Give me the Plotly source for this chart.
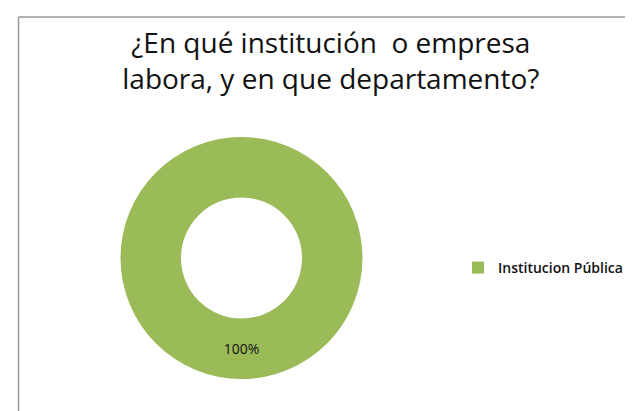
import plotly.graph_objects as go

labels = ["Institucion Pública"]
values = [100]
title_lines = ["¿En qué institución  o empresa", "labora, y en que departamento?"]

W, H = 633, 411
cx, cy, r = 233.5, 250, 121
fig = go.Figure(go.Pie(
    labels=labels, values=values, hole=0.5,
    marker=dict(colors=["#9BBB59"], line=dict(width=0)),
    textinfo="percent", textposition="inside",
    insidetextfont=dict(family="Open Sans", size=14, color="#111111"),
    sort=False, direction="clockwise", rotation=0,
    domain=dict(x=[(cx - r)/W, (cx + r)/W], y=[1 - (cy + r)/H, 1 - (cy - r)/H]),
    showlegend=True,
))
fig.update_layout(
    width=W, height=H, margin=dict(l=0, r=0, t=0, b=0),
    paper_bgcolor="white", plot_bgcolor="white",
    title=dict(text="<br>".join(title_lines), x=0.510, xanchor="center",
               y=1-45/H, yanchor="top",
               font=dict(family="Open Sans", size=28, color="#111111")),
    legend=dict(x=450/W, y=1-260/H, xanchor="left", yanchor="middle",
                font=dict(family="Open Sans", size=14, color="#111111", weight=600),
                itemwidth=30),
    shapes=[
        dict(type="line", xref="paper", yref="paper", x0=10.5/W, x1=1, y0=1-9/H, y1=1-9/H,
             line=dict(color="#999999", width=1.5)),
        dict(type="line", xref="paper", yref="paper", x0=10.5/W, x1=10.5/W, y0=0, y1=1-9/H,
             line=dict(color="#999999", width=1.5)),
    ],
)
fig.write_html("out.html")
